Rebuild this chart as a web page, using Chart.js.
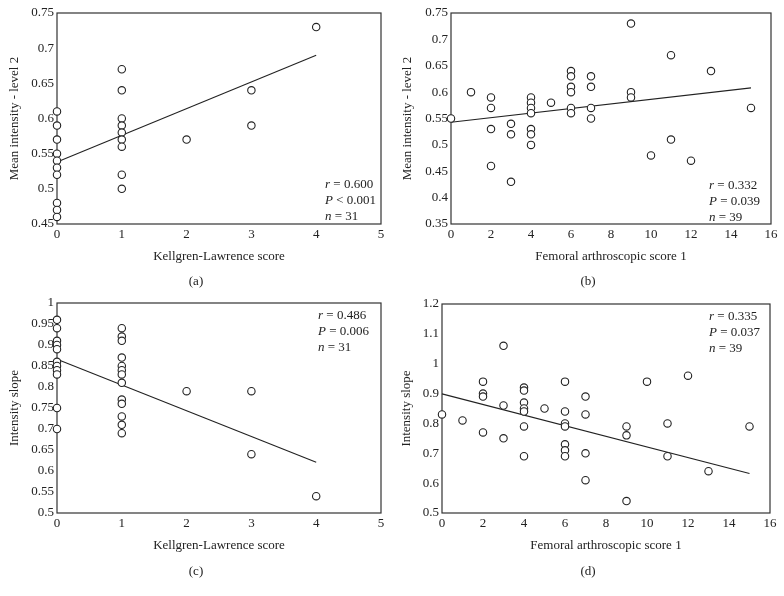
<!DOCTYPE html>
<html><head><meta charset="utf-8">
<script src="https://cdn.jsdelivr.net/npm/chart.js@4"></script>
<style>
body{margin:0;background:#fff;width:784px;height:596px;position:relative;overflow:hidden;font-family:"Liberation Serif",serif;color:#222}
canvas{position:absolute;left:0;top:0}
.ann{position:absolute;font-size:13px;line-height:16px;white-space:pre}
.cap{position:absolute;font-size:13px;width:392px;text-align:center;line-height:16px}
</style></head><body>
<canvas id="ca" width="784" height="596"></canvas>
<canvas id="cb" width="784" height="596"></canvas>
<canvas id="cc" width="784" height="596"></canvas>
<canvas id="cd" width="784" height="596"></canvas>
<div class="ann" style="left:325px;top:176px"><i>r</i> = 0.600
<i>P</i> &lt; 0.001
<i>n</i> = 31</div>
<div class="ann" style="left:709px;top:177px"><i>r</i> = 0.332
<i>P</i> = 0.039
<i>n</i> = 39</div>
<div class="ann" style="left:318px;top:307px"><i>r</i> = 0.486
<i>P</i> = 0.006
<i>n</i> = 31</div>
<div class="ann" style="left:709px;top:308px"><i>r</i> = 0.335
<i>P</i> = 0.037
<i>n</i> = 39</div>
<div class="cap" style="left:0;top:273px">(a)</div>
<div class="cap" style="left:392px;top:273px">(b)</div>
<div class="cap" style="left:0;top:563px">(c)</div>
<div class="cap" style="left:392px;top:563px">(d)</div>
<script>
// ---- Panel (a): Kellgren-Lawrence score vs Mean intensity - level 2
const xA = [0,0,0,0,0,0,0,0,0,0, 1,1,1,1,1,1,1,1,1, 2, 3,3, 4];
const yA = [0.61,0.59,0.57,0.55,0.54,0.53,0.52,0.48,0.47,0.46, 0.67,0.64,0.60,0.59,0.58,0.57,0.56,0.52,0.50, 0.57, 0.64,0.59, 0.73];
const fitXA = [0, 4];
const fitYA = [0.538, 0.690];
const xTicksA = [0,1,2,3,4,5];
const yTicksA = [0.45,0.5,0.55,0.6,0.65,0.7,0.75];

// ---- Panel (b): Femoral arthroscopic score 1 vs Mean intensity - level 2
const xB = [0, 1, 2,2,2,2, 3,3,3, 4,4,4,4,4,4,4, 5, 6,6,6,6,6,6, 7,7,7,7, 9,9,9, 10, 11,11, 12, 13, 15];
const yB = [0.55, 0.60, 0.59,0.57,0.53,0.46, 0.54,0.52,0.43, 0.59,0.58,0.57,0.56,0.53,0.52,0.50, 0.58, 0.64,0.63,0.61,0.60,0.57,0.56, 0.63,0.61,0.57,0.55, 0.73,0.60,0.59, 0.48, 0.67,0.51, 0.47, 0.64, 0.57];
const fitXB = [0, 15];
const fitYB = [0.543, 0.608];
const xTicksB = [0,2,4,6,8,10,12,14,16];
const yTicksB = [0.35,0.4,0.45,0.5,0.55,0.6,0.65,0.7,0.75];

// ---- Panel (c): Kellgren-Lawrence score vs Intensity slope
const xC = [0,0,0,0,0,0,0,0,0,0,0, 1,1,1,1,1,1,1,1,1,1,1,1,1, 2, 3,3, 4];
const yC = [0.96,0.94,0.91,0.90,0.89,0.86,0.85,0.84,0.83,0.75,0.70, 0.94,0.92,0.91,0.87,0.85,0.84,0.83,0.81,0.77,0.76,0.73,0.71,0.69, 0.79, 0.79,0.64, 0.54];
const fitXC = [0, 4];
const fitYC = [0.866, 0.621];
const xTicksC = [0,1,2,3,4,5];
const yTicksC = [0.5,0.55,0.6,0.65,0.7,0.75,0.8,0.85,0.9,0.95,1];

// ---- Panel (d): Femoral arthroscopic score 1 vs Intensity slope
const xD = [0, 1, 2,2,2,2, 3,3,3, 4,4,4,4,4,4,4, 5, 6,6,6,6,6,6,6, 7,7,7,7, 9,9,9, 10, 11,11, 12, 13, 15];
const yD = [0.83, 0.81, 0.94,0.90,0.89,0.77, 1.06,0.86,0.75, 0.92,0.91,0.87,0.85,0.84,0.79,0.69, 0.85, 0.94,0.84,0.80,0.79,0.73,0.71,0.69, 0.89,0.83,0.70,0.61, 0.79,0.76,0.54, 0.94, 0.80,0.69, 0.96, 0.64, 0.79];
const fitXD = [0, 15];
const fitYD = [0.899, 0.632];
const xTicksD = [0,2,4,6,8,10,12,14,16];
const yTicksD = [0.5,0.6,0.7,0.8,0.9,1,1.1,1.2];

const FONT = {family:'"Liberation Serif", serif', size:13};
const TXT = '#222';
const AXIS = '#333';

const boxPlugin = {
  id:'box',
  beforeDatasetsDraw(chart){
    const {ctx, chartArea:{left,top,right,bottom}} = chart;
    ctx.save();
    ctx.strokeStyle = AXIS;
    ctx.lineWidth = 1.2;
    ctx.strokeRect(left, top, right-left, bottom-top);
    ctx.restore();
  }
};

function panel(id, xs, ys, fx, fy, xTicks, yTicks, xTitle, yTitle, g) {
  new Chart(document.getElementById(id), {
    type:'scatter',
    data:{datasets:[
      {type:'line', data: fx.map((x,i)=>({x:x, y:fy[i]})), borderColor:'#222', borderWidth:1.1,
       pointRadius:0, fill:false, clip:false, order:1},
      {data: xs.map((x,i)=>({x:x, y:ys[i]})), pointRadius:3.7, pointBorderWidth:1.1,
       pointBackgroundColor:'#fff', pointBorderColor:'#222', clip:false, order:0}
    ]},
    options:{
      responsive:false, animation:false, devicePixelRatio:1,
      layout:{padding:{left:g.yl, top:g.t, right:784-g.r, bottom:596-g.b-40}},
      plugins:{legend:{display:false}, tooltip:{enabled:false}},
      scales:{
        x:{type:'linear', min:xTicks[0], max:xTicks[xTicks.length-1],
           afterBuildTicks:s=>{s.ticks = xTicks.map(v=>({value:v}));},
           afterFit:s=>{s.height = 40;},
           grid:{display:false, drawTicks:false}, border:{display:false},
           ticks:{padding:3, font:FONT, color:TXT, autoSkip:false, maxRotation:0, callback:v=>String(v)},
           title:{display:true, text:xTitle, font:FONT, color:TXT, padding:{top:0,bottom:0}}},
        y:{type:'linear', min:yTicks[0], max:yTicks[yTicks.length-1],
           afterBuildTicks:s=>{s.ticks = yTicks.map(v=>({value:v}));},
           afterFit:s=>{s.width = g.l - g.yl;},
           grid:{display:false, drawTicks:false}, border:{display:false},
           ticks:{padding:3, font:FONT, color:TXT, autoSkip:false, callback:v=>String(v)},
           title:{display:true, text:yTitle, font:FONT, color:TXT, padding:{top:g.tp,bottom:0}}}
      }
    },
    plugins:[boxPlugin]
  });
}

panel('ca', xA, yA, fitXA, fitYA, xTicksA, yTicksA, 'Kellgren-Lawrence score', 'Mean intensity - level 2',
      {yl:0, l:57, t:13, r:381, b:224, tp:7});
panel('cb', xB, yB, fitXB, fitYB, xTicksB, yTicksB, 'Femoral arthroscopic score 1', 'Mean intensity - level 2',
      {yl:392, l:451, t:13, r:771, b:224, tp:8});
panel('cc', xC, yC, fitXC, fitYC, xTicksC, yTicksC, 'Kellgren-Lawrence score', 'Intensity slope',
      {yl:0, l:57, t:303, r:381, b:513, tp:7});
panel('cd', xD, yD, fitXD, fitYD, xTicksD, yTicksD, 'Femoral arthroscopic score 1', 'Intensity slope',
      {yl:392, l:442, t:304, r:770, b:513, tp:7});
</script>
</body></html>
